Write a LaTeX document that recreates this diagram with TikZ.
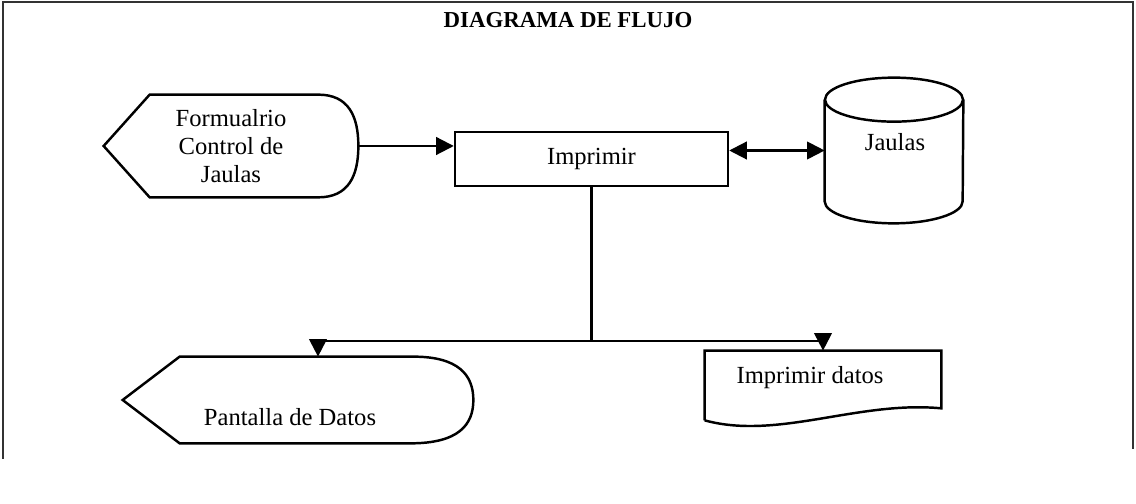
\documentclass[tikz,border=0pt]{standalone}
\usepackage{fontspec}
\setmainfont{Liberation Serif}
\usetikzlibrary{positioning, arrows.meta, calc}

\begin{document}
\begin{tikzpicture}[
    % Global Styles
    font=\fontsize{14}{16}\selectfont,
    >={Triangle[length=10pt, width=10pt]},
    % Invisible boxes that carry the outlines
    shapebox/.style 2 args={
        draw=none,
        minimum width=#1,
        minimum height=#2,
        inner sep=0
    },
    % Outline of the symbols
    outline/.style={line width=1.4pt, black},
    % Process box
    process/.style={
        draw,
        line width=1.4pt,
        minimum width=5.46cm,
        minimum height=1.08cm,
        inner sep=0
    },
    % Connectors
    flow/.style={line width=1.2pt, ->},
    link/.style={line width=1.2pt},
    % Page frame
    frame/.style={line width=0.7pt, black!80}
]

    % --- Page size & frame ---
    \useasboundingbox (0,0) rectangle (22.72,10.08);
    \draw[frame] (0.06,0.9) -- (0.06,10.04) -- (22.66,10.04) -- (22.66,1.1);

    % --- Title ---
    \node[font=\fontsize{13}{15}\selectfont\bfseries] (title) at (11.36,9.68) {DIAGRAMA DE FLUJO};

    % --- Input display: Formualrio ---
    \node[shapebox={5.08cm}{2.04cm}] (form) at (4.62,7.16) {};
    \draw[outline] (form.west) -- ($(form.north west)+(0.92,0)$)
        -- ($(form.north east)+(-0.8,0)$)
        .. controls ($(form.north east)+(-0.2,0)$) and ($(form.east)+(0,0.6)$) .. (form.east)
        .. controls ($(form.east)+(0,-0.6)$) and ($(form.south east)+(-0.2,0)$) .. ($(form.south east)+(-0.8,0)$)
        -- ($(form.south west)+(0.92,0)$) -- cycle;
    \node[align=center] (formtext) at (form.center) {Formualrio\\Control de\\Jaulas};

    % --- Process: Imprimir ---
    \node[process] (imp) at (11.83,6.90) {Imprimir};

    % --- Data store: Jaulas ---
    \node[shapebox={2.76cm}{2.9cm}] (db) at (17.88,7.07) {};
    \draw[outline] ($(db.north)+(0,-0.44)$) ellipse[x radius=1.38, y radius=0.44];
    \draw[outline] ($(db.north west)+(0,-0.44)$) -- ($(db.south west)+(0,0.44)$)
        arc[start angle=180, end angle=360, x radius=1.38, y radius=0.44]
        -- ($(db.north east)+(0,-0.44)$);
    \node (dbtext) at ($(db.center)+(0.02,0.17)$) {Jaulas};

    % --- Output display: Pantalla de Datos ---
    \node[shapebox={7.0cm}{1.72cm}] (disp) at (5.96,2.08) {};
    \draw[outline] (disp.west) -- ($(disp.north west)+(1.14,0)$)
        -- ($(disp.north east)+(-1.2,0)$)
        .. controls ($(disp.north east)+(-0.3,0)$) and ($(disp.east)+(0,0.5)$) .. (disp.east)
        .. controls ($(disp.east)+(0,-0.5)$) and ($(disp.south east)+(-0.3,0)$) .. ($(disp.south east)+(-1.26,0)$)
        -- ($(disp.south west)+(1.14,0)$) -- cycle;
    \node (disptext) at ($(disp.center)+(-0.16,-0.34)$) {Pantalla de Datos};

    % --- Document: Imprimir datos ---
    \node[shapebox={4.72cm}{1.38cm}] (doc) at (16.46,2.37) {};
    \draw[outline] (doc.south west) -- (doc.north west) -- (doc.north east)
        -- ($(doc.south east)+(0,0.24)$)
        .. controls ($(doc.south east)+(-1.66,0.4)$) and ($(doc.south west)+(1.46,-0.4)$) .. (doc.south west);
    \node (doctext) at ($(doc.center)+(-0.26,0.15)$) {Imprimir datos};

    % --- Connectors ---
    \draw[flow] (form.east) -- (form.east -| imp.west);
    \draw[link, {Triangle[length=10pt, width=10pt]}-{Triangle[length=10pt, width=10pt]}] (db.west -| imp.east) -- (db.west);

    % Split below Imprimir
    \coordinate (split) at ($(imp.south)+(0,-3.08)$);
    \coordinate (pleft) at ($(disp.north)+(0.4,0)$);
    \draw[link] (imp.south) -- (split);
    \draw[flow] (split) -| (pleft);
    \draw[flow] (split) -| (doc.north);

\end{tikzpicture}
\end{document}
